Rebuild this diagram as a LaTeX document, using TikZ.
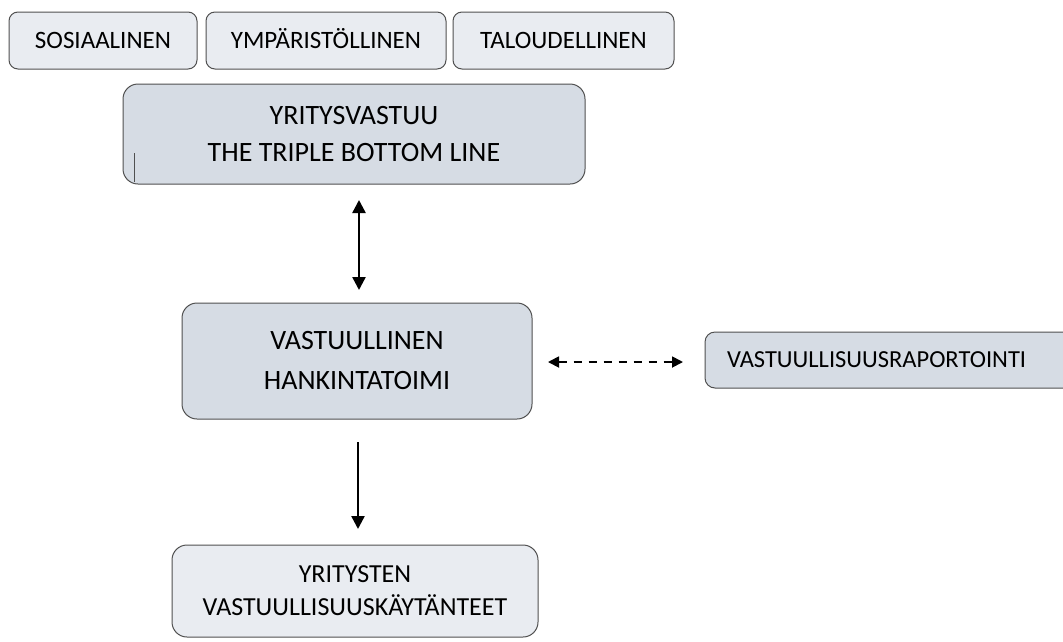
\documentclass[tikz,border=0pt]{standalone}
\usepackage{fontspec}
\setmainfont{Carlito}
\usetikzlibrary{arrows.meta}
\definecolor{lightbox}{HTML}{E9ECF1}
\definecolor{darkbox}{HTML}{D6DCE4}
\definecolor{edge}{HTML}{505050}
\tikzset{
  box/.style={draw=edge, line width=1pt, rounded corners=9pt, align=center, inner sep=0pt},
  topbox/.style={box, fill=lightbox, minimum height=57pt, font=\fontsize{25}{30}\selectfont, text height=16pt, text depth=0pt},
  tip/.style={Triangle[length=13pt,width=13pt]},
  conn/.style={line width=2.4pt, -{Triangle[length=13pt,width=13pt]}},
  dconn/.style={line width=2.4pt, {Triangle[length=13pt,width=13pt]}-{Triangle[length=13pt,width=13pt]}},
}
\begin{document}
\begin{tikzpicture}[x=1pt,y=-1pt]
\useasboundingbox (0,0) rectangle (1063,641);
\clip (0,0) rectangle (1063,641);
% top boxes
\node[topbox, minimum width=188pt] (sos) at (103,40.5) {SOSIAALINEN};
\node[topbox, minimum width=240pt] (ymp) at (326,40.5) {YMPÄRISTÖLLINEN};
\node[topbox, minimum width=221pt] (tal) at (563.5,40.5) {TALOUDELLINEN};
% main boxes
\node[box, fill=darkbox, rounded corners=15pt, minimum width=462pt, minimum height=100pt, font=\fontsize{28}{37}\selectfont] (yv) at (354,134) {YRITYSVASTUU\\THE TRIPLE BOTTOM LINE};
\draw[edge, line width=0.8pt] (134,153) -- (134,182);
\node[box, fill=darkbox, rounded corners=15pt, minimum width=350pt, minimum height=116pt, font=\fontsize{28}{40}\selectfont] (vh) at (357,361) {VASTUULLINEN\\HANKINTATOIMI};
\node[box, fill=darkbox, rounded corners=10pt, minimum width=400pt, minimum height=56pt, text width=400pt, align=left, font=\fontsize{24.5}{30}\selectfont, text height=15pt, text depth=0pt] (vr) at (905,360) {\hspace{22pt}VASTUULLISUUSRAPORTOINTI};
\node[box, fill=lightbox, rounded corners=15pt, minimum width=366pt, minimum height=92pt, font=\fontsize{26}{33}\selectfont] (yk) at (355,591) {YRITYSTEN\\VASTUULLISUUSKÄYTÄNTEET};
% connectors
\coordinate (a1) at (359,200);
\coordinate (a2) at (359,290);
\draw[dconn] (a1) -- (a2);
\coordinate (b1) at (548,362);
\coordinate (b2) at (683,362);
\draw[line width=1.8pt, {Triangle[length=11pt,width=11pt]}-{Triangle[length=11pt,width=11pt]}, dash pattern=on 8pt off 7pt] (b1) -- (b2);
\coordinate (c1) at (358,442);
\coordinate (c2) at (358,529);
\draw[conn] (c1) -- (c2);
\end{tikzpicture}
\end{document}
